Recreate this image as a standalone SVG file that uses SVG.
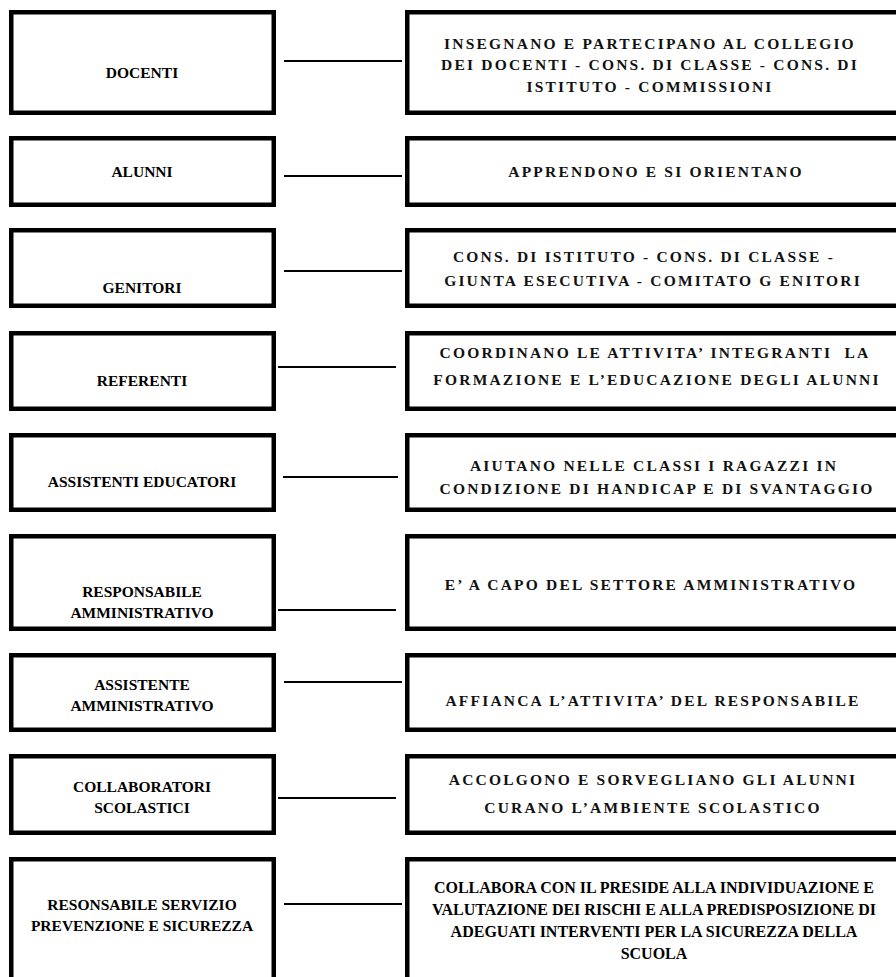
<svg xmlns="http://www.w3.org/2000/svg" width="896" height="977" viewBox="0 0 896 977">
<style>
  .box { fill: #ffffff; stroke: #000000; stroke-width: 4.5; }
  .conn { stroke: #000000; stroke-width: 2.2; fill: none; }
  .lt { font-family: "Liberation Serif", "Times New Roman", serif; font-weight: bold; font-size: 15.5px; fill: #000; text-anchor: middle; }
  .rt { font-family: "Liberation Serif", "Times New Roman", serif; font-weight: bold; font-size: 15.5px; letter-spacing: 2.2px; fill: #111; text-anchor: middle; }
  .rp { font-family: "Liberation Serif", "Times New Roman", serif; font-weight: bold; font-size: 16px; fill: #000; text-anchor: middle; }
</style>
<rect x="0" y="0" width="896" height="977" fill="#ffffff"/>

<g id="connectors">
  <line class="conn" x1="284" y1="61" x2="402" y2="61"/>
  <line class="conn" x1="284" y1="176" x2="402" y2="176"/>
  <line class="conn" x1="284" y1="271" x2="402" y2="271"/>
  <line class="conn" x1="278" y1="367" x2="396" y2="367"/>
  <line class="conn" x1="283" y1="477" x2="398" y2="477"/>
  <line class="conn" x1="278" y1="610" x2="396" y2="610"/>
  <line class="conn" x1="284" y1="682" x2="402" y2="682"/>
  <line class="conn" x1="278" y1="798" x2="396" y2="798"/>
  <line class="conn" x1="284" y1="904" x2="402" y2="904"/>
</g>

<g id="docenti">
  <rect class="box" x="11.25" y="12.25" width="262.5" height="100.5"/>
  <text class="lt" x="142" y="77.5">DOCENTI</text>
</g>
<g id="docenti-ruolo">
  <rect class="box" x="407.25" y="12.25" width="500" height="100.5"/>
  <text class="rt" x="650" y="48.5">INSEGNANO E PARTECIPANO AL COLLEGIO</text>
  <text class="rt" x="650" y="70">DEI DOCENTI - CONS. DI CLASSE - CONS. DI</text>
  <text class="rt" x="650" y="91.5">ISTITUTO - COMMISSIONI</text>
</g>

<g id="alunni">
  <rect class="box" x="11.25" y="138.25" width="262.5" height="66.5"/>
  <text class="lt" x="142" y="177">ALUNNI</text>
</g>
<g id="alunni-ruolo">
  <rect class="box" x="407.25" y="138.25" width="500" height="66.5"/>
  <text class="rt" x="656" y="177">APPRENDONO E SI ORIENTANO</text>
</g>

<g id="genitori">
  <rect class="box" x="11.25" y="230.25" width="262.5" height="75.5"/>
  <text class="lt" x="142" y="292.5">GENITORI</text>
</g>
<g id="genitori-ruolo">
  <rect class="box" x="407.25" y="230.25" width="500" height="75.5"/>
  <text class="rt" x="644" y="262">CONS. DI ISTITUTO - CONS. DI CLASSE -</text>
  <text class="rt" x="653" y="286">GIUNTA ESECUTIVA - COMITATO G ENITORI</text>
</g>

<g id="referenti">
  <rect class="box" x="11.25" y="333.25" width="262.5" height="75.5"/>
  <text class="lt" x="142" y="386">REFERENTI</text>
</g>
<g id="referenti-ruolo">
  <rect class="box" x="407.25" y="333.25" width="500" height="75.5"/>
  <text class="rt" x="655" y="358" xml:space="preserve">COORDINANO LE ATTIVITA’ INTEGRANTI  LA</text>
  <text class="rt" x="657" y="385">FORMAZIONE E L’EDUCAZIONE DEGLI ALUNNI</text>
</g>

<g id="assistenti-educatori">
  <rect class="box" x="11.25" y="435.25" width="262.5" height="74.5"/>
  <text class="lt" x="142" y="487">ASSISTENTI EDUCATORI</text>
</g>
<g id="assistenti-educatori-ruolo">
  <rect class="box" x="407.25" y="435.25" width="500" height="74.5"/>
  <text class="rt" x="654" y="471">AIUTANO NELLE CLASSI I RAGAZZI IN</text>
  <text class="rt" x="657" y="494">CONDIZIONE DI HANDICAP E DI SVANTAGGIO</text>
</g>

<g id="responsabile-amministrativo">
  <rect class="box" x="11.25" y="536.25" width="262.5" height="92.5"/>
  <text class="lt" x="142" y="596.5">RESPONSABILE</text>
  <text class="lt" x="142" y="617.5">AMMINISTRATIVO</text>
</g>
<g id="responsabile-amministrativo-ruolo">
  <rect class="box" x="407.25" y="536.25" width="500" height="92.5"/>
  <text class="rt" x="651" y="590">E’ A CAPO DEL SETTORE AMMINISTRATIVO</text>
</g>

<g id="assistente-amministrativo">
  <rect class="box" x="11.25" y="655.25" width="262.5" height="74.5"/>
  <text class="lt" x="142" y="690">ASSISTENTE</text>
  <text class="lt" x="142" y="711">AMMINISTRATIVO</text>
</g>
<g id="assistente-amministrativo-ruolo">
  <rect class="box" x="407.25" y="655.25" width="500" height="74.5"/>
  <text class="rt" x="653" y="706">AFFIANCA L’ATTIVITA’ DEL RESPONSABILE</text>
</g>

<g id="collaboratori-scolastici">
  <rect class="box" x="11.25" y="756.25" width="262.5" height="76.5"/>
  <text class="lt" x="142" y="791.5">COLLABORATORI</text>
  <text class="lt" x="142" y="813">SCOLASTICI</text>
</g>
<g id="collaboratori-scolastici-ruolo">
  <rect class="box" x="407.25" y="756.25" width="500" height="76.5"/>
  <text class="rt" x="653" y="785">ACCOLGONO E SORVEGLIANO GLI ALUNNI</text>
  <text class="rt" x="653" y="813">CURANO L’AMBIENTE SCOLASTICO</text>
</g>

<g id="rspp">
  <rect class="box" x="11.25" y="859.25" width="262.5" height="140"/>
  <text class="lt" x="142" y="910">RESONSABILE SERVIZIO</text>
  <text class="lt" x="142" y="931">PREVENZIONE E SICUREZZA</text>
</g>
<g id="rspp-ruolo">
  <rect class="box" x="407.25" y="859.25" width="500" height="140"/>
  <text class="rp" x="654" y="893">COLLABORA CON IL PRESIDE ALLA INDIVIDUAZIONE E</text>
  <text class="rp" x="654" y="915">VALUTAZIONE DEI RISCHI E ALLA PREDISPOSIZIONE DI</text>
  <text class="rp" x="654" y="937">ADEGUATI INTERVENTI PER LA SICUREZZA DELLA</text>
  <text class="rp" x="654" y="959">SCUOLA</text>
</g>
</svg>
